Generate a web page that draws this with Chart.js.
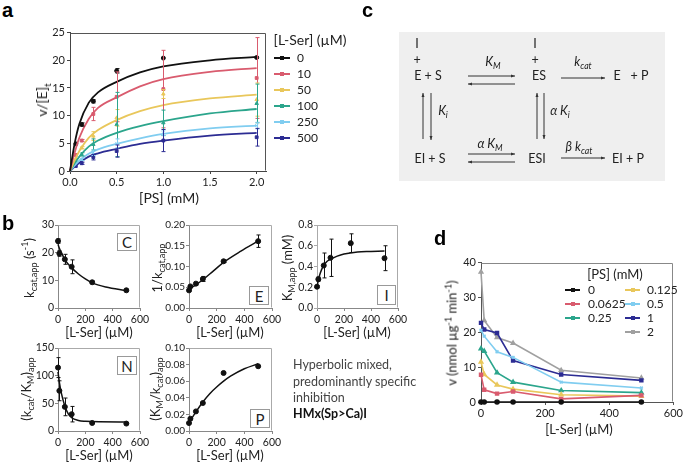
<!DOCTYPE html>
<html><head><meta charset="utf-8">
<script src="https://cdn.jsdelivr.net/npm/chart.js@4.4.1/dist/chart.umd.min.js"></script>
<style>
body{margin:0;width:685px;height:464px;background:#fff;position:relative;overflow:hidden;font-family:Lato,"Open Sans",sans-serif;color:#222}
.t{position:absolute;white-space:nowrap;line-height:1}
.pl{position:absolute;font:bold 20px Arial,"Liberation Sans",sans-serif;color:#000;line-height:1}
canvas{position:absolute}
sub,sup{font-size:70%;line-height:0}
.box{position:absolute;border:1px solid #999;background:#fff;font-size:15px;display:flex;align-items:center;justify-content:center;box-sizing:border-box}
.lgl{position:absolute;height:2px}
.lgm{position:absolute;width:4px;height:4px}
</style></head><body>
<script>
// ---------- DATA ----------
// panel a: [PS] (mM)
const psFit = [0, 0.05, 0.1, 0.2, 0.3, 0.5, 0.75, 1, 1.5, 2];
const fit0   = [0, 5.0, 8.5, 12.3, 14.2, 16.1, 17.8, 18.9, 20.0, 20.6];
const fit10  = [0, 3.3, 6.0, 9.4, 11.4, 13.3, 15.3, 16.6, 17.9, 18.6];
const fit50  = [0, 1.9, 3.6, 6.0, 7.4, 9.2, 10.8, 11.9, 13.1, 13.8];
const fit100 = [0, 1.4, 2.6, 4.4, 5.5, 6.9, 8.1, 9.0, 10.4, 11.2];
const fit250 = [0, 1.0, 1.9, 3.1, 3.9, 4.9, 5.9, 6.7, 7.7, 8.2];
const fit500 = [0, 0.8, 1.5, 2.6, 3.2, 4.0, 4.9, 5.5, 6.4, 6.9];
const psPts  = [0.0625, 0.125, 0.25, 0.5, 1, 2];
const pts0   = [4.9, 8.4, 12.6, 18.1, 20.4, 20.5];
const err0   = [0, 0.3, 0.3, 0.4, 0, 0];
const pts10  = [2.9, 5.5, 10.3, 13.4, 14.8, 16.8];
const err10  = [0, 0.2, 1.2, 4.5, 7.0, 7.3];
const pts50  = [2.2, 4.2, 6.3, 9.6, 13.9, 12.9];
const err50  = [0, 0.2, 0.8, 1.5, 0.8, 3.0];
const pts100 = [1.8, 3.0, 4.8, 8.4, 8.7, 12.2];
const err100 = [0, 0.3, 1.0, 5.8, 2.3, 3.5];
const pts250 = [1.3, 2.1, 3.3, 5.0, 6.9, 8.2];
const err250 = [0, 0.2, 0.5, 0.8, 0.5, 0.6];
const pts500 = [0.9, 1.4, 2.5, 3.6, 5.5, 6.1];
const err500 = [0, 0.2, 0.5, 1.1, 2.0, 1.6];
const serLabels = ['0', '10', '50', '100', '250', '500'];

// panel b: [L-Ser] (µM)
const ser = [0, 10, 50, 100, 250, 500];
const kcatPts = [24.2, 19.7, 17.6, 14.9, 9.3, 6.4];
const kcatErr = [0.8, 1.0, 1.8, 2.5, 0.5, 0.4];
const kcatFitX = [0, 10, 25, 50, 100, 150, 200, 250, 350, 500];
const kcatFit  = [23.0, 21.6, 20.0, 17.5, 14.5, 12.3, 10.5, 9.1, 7.6, 6.3];
const invPts = [0.0425, 0.052, 0.0587, 0.070, 0.1126, 0.161];
const invErr = [0.002, 0.002, 0.003, 0.006, 0.003, 0.015];
const invFitX = [0, 50, 100, 175, 250, 375, 500];
const invFit  = [0.046, 0.056, 0.068, 0.089, 0.110, 0.137, 0.161];
const kmPts = [0.205, 0.278, 0.41, 0.484, 0.625, 0.48];
const kmErr = [0.01, 0.02, 0.12, 0.18, 0.09, 0.12];
const kmFitX = [0, 10, 25, 50, 75, 100, 150, 200, 300, 400, 500];
const kmFit  = [0.20, 0.27, 0.34, 0.41, 0.45, 0.47, 0.50, 0.52, 0.54, 0.545, 0.55];
const effPts = [114.6, 72.7, 43.6, 30.4, 14.5, 13.4];
const effErr = [18, 18, 16, 14, 1, 1];
const effFitX = [0, 10, 25, 50, 75, 100, 150, 200, 300, 500];
const effFit  = [107, 88, 68, 45, 31, 24, 19, 17.5, 16.5, 16.3];
const recPts = [0.0096, 0.0148, 0.0236, 0.0337, 0.0699, 0.078];
const recFitX = [0, 50, 100, 150, 200, 250, 300, 400, 500];
const recFit  = [0.010, 0.023, 0.035, 0.045, 0.053, 0.060, 0.066, 0.075, 0.081];

// panel d: v vs [L-Ser] at each [PS] (mM)
const serD = [0, 10, 50, 100, 250, 500];
const vPS0      = [0, 0, 0, 0, 0, 0];
const vPS00625  = [7.8, 3.5, 2.4, 3.0, 0.9, 1.9];
const vPS0125   = [11.5, 7.9, 4.9, 3.7, 2.1, 1.7];
const vPS025    = [15.3, 14.6, 8.4, 5.7, 3.3, 2.7];
const vPS05     = [20.6, 18.9, 14.4, 12.8, 5.7, 4.0];
const vPS1      = [22.7, 20.8, 19.8, 11.9, 7.9, 6.2];
const vPS2      = [37.3, 23.4, 18.5, 16.9, 9.1, 6.9];
const psLabels = ['0', '0.0625', '0.125', '0.25', '0.5', '1', '2'];

// ---------- STYLE ----------
const FONT = "Lato, 'Open Sans', sans-serif";
Chart.defaults.font.family = FONT;
Chart.defaults.color = '#222';
const colA = ['#111111', '#d95b6e', '#e9c75b', '#2ba58c', '#80cdf0', '#2c2c93'];
const shpA = ['circle', 'rect', 'triangle', 'triangle', 'crossRot', 'rect'];
const colD = ['#111111', '#d95b6e', '#e9c75b', '#2ba58c', '#80cdf0', '#2c2c93', '#a0a0a0'];
const shpD = ['circle', 'rect', 'triangle', 'triangle', 'crossRot', 'rect', 'triangle'];

const framePlugin = {
  id: 'frame',
  beforeDatasetsDraw(chart, args, opts) {
    if (!opts.color) return;
    const {ctx, chartArea: a} = chart;
    ctx.save(); ctx.strokeStyle = opts.color; ctx.lineWidth = 1;
    const l = Math.round(a.left) + 0.5, t = Math.round(a.top) + 0.5, r = Math.round(a.right) - 0.5, b = Math.round(a.bottom) - 0.5;
    ctx.beginPath(); ctx.moveTo(l, t); ctx.lineTo(r, t); ctx.lineTo(r, b); ctx.stroke();
    ctx.restore();
  }
};
const errPlugin = {
  id: 'errbars',
  afterDatasetsDraw(chart) {
    const {ctx, scales: {x, y}} = chart;
    chart.data.datasets.forEach((ds) => {
      if (!ds.errs) return;
      ctx.save(); ctx.strokeStyle = ds.errColor || ds.borderColor; ctx.lineWidth = 1;
      ds.data.forEach((p, j) => {
        const e = ds.errs[j]; if (!e || p.y == null) return;
        const px = Math.round(x.getPixelForValue(p.x)) + 0.5;
        const y1 = y.getPixelForValue(p.y - e), y2 = y.getPixelForValue(p.y + e);
        ctx.beginPath(); ctx.moveTo(px, y1); ctx.lineTo(px, y2);
        ctx.moveTo(px - 2, y1); ctx.lineTo(px + 2, y1);
        ctx.moveTo(px - 2, y2); ctx.lineTo(px + 2, y2); ctx.stroke();
      });
      ctx.restore();
    });
  }
};

function axis(min, max, step, fmt, fs, col, pad) {
  return {
    type: 'linear', min, max,
    ticks: {stepSize: step, includeBounds: false, callback: v => fmt(v), font: {size: fs}, color: '#222', padding: pad == null ? 2 : pad, maxRotation: 0, autoSkip: false},
    grid: {display: true, drawOnChartArea: false, drawTicks: true, tickLength: 3, color: col},
    border: {display: true, color: col}
  };
}

function mk(area, datasets, xs, ys, frameColor) {
  const yw = area.yw, xh = area.xh, pr = area.pr || 14, pt = area.pt || 8;
  const cl = area.L - yw, ct = area.T - pt;
  const w = Math.round(area.R + pr - cl), h = Math.round(area.B + xh - ct);
  const c = document.createElement('canvas');
  c.width = w; c.height = h;
  c.style.left = cl + 'px'; c.style.top = ct + 'px'; c.style.width = w + 'px'; c.style.height = h + 'px';
  document.body.appendChild(c);
  xs.afterFit = s => { s.height = xh; };
  ys.afterFit = s => { s.width = yw; };
  new Chart(c, {
    type: 'scatter', data: {datasets},
    options: {
      responsive: false, animation: false, devicePixelRatio: 1,
      layout: {padding: {left: 0, top: pt, right: pr, bottom: 0}},
      plugins: {legend: {display: false}, tooltip: {enabled: false}, frame: {color: frameColor}},
      scales: {x: xs, y: ys}
    },
    plugins: [framePlugin, errPlugin]
  });
}

const xy = (xs, ys) => ys.map((v, i) => ({x: xs[i], y: v}));
function fitDs(xs, ys, color, w) {
  return {data: xy(xs, ys), showLine: true, borderColor: color, borderWidth: w || 1.5, pointRadius: 0, cubicInterpolationMode: 'monotone', fill: false, clip: false};
}
function ptDs(xs, ys, color, errs, shape, r) {
  return {data: xy(xs, ys), showLine: false, borderColor: color, backgroundColor: color, pointRadius: r || 2, pointStyle: shape || 'circle', errs, clip: false};
}

// ---------- HTML helpers ----------
function txt(html, x, y, size, opt) {
  opt = opt || {};
  const d = document.createElement('div'); d.className = 't'; d.innerHTML = html;
  d.style.left = x + 'px'; d.style.top = y + 'px'; d.style.fontSize = size + 'px';
  const ax = opt.align === 'left' ? '0' : '-50%';
  d.style.transform = `translate(${ax},-50%)`;
  if (opt.rot) { d.style.transformOrigin = '0 0'; d.style.transform = 'rotate(-90deg) translate(-50%,-50%)'; }
  if (opt.bold) d.style.fontWeight = 'bold';
  if (opt.color) d.style.color = opt.color;
  document.body.appendChild(d); return d;
}
function plabel(ch, x, y) { const d = document.createElement('div'); d.className = 'pl'; d.textContent = ch; d.style.left = x + 'px'; d.style.top = y + 'px'; document.body.appendChild(d); }
function lbox(ch, x1, y1, x2, y2) { const d = document.createElement('div'); d.className = 'box'; d.textContent = ch; d.style.left = x1 + 'px'; d.style.top = y1 + 'px'; d.style.width = (x2 - x1) + 'px'; d.style.height = (y2 - y1) + 'px'; document.body.appendChild(d); }
function legItem(x1, x2, y, color, label, lx, fs) {
  const l = document.createElement('div'); l.className = 'lgl'; l.style.left = x1 + 'px'; l.style.top = (y - 1) + 'px'; l.style.width = (x2 - x1) + 'px'; l.style.background = color; document.body.appendChild(l);
  const m = document.createElement('div'); m.className = 'lgm'; m.style.left = ((x1 + x2) / 2 - 2) + 'px'; m.style.top = (y - 2) + 'px'; m.style.background = color; document.body.appendChild(m);
  txt(label, lx, y, fs, {align: 'left'});
}

// ---------- PANEL a ----------
plabel('a', 2, 0);
{
  const fits = [fit0, fit10, fit50, fit100, fit250, fit500];
  const pts = [pts0, pts10, pts50, pts100, pts250, pts500];
  const errs = [err0, err10, err50, err100, err250, err500];
  const ds = [];
  fits.forEach((f, i) => ds.push(fitDs(psFit, f, colA[i], 1.8)));
  pts.forEach((p, i) => ds.push(ptDs(psPts, p, colA[i], errs[i], shpA[i], 2)));
  mk({L: 70, T: 31.7, R: 266, B: 170.7, yw: 40, xh: 22, pr: 14, pt: 8}, ds,
     axis(0, 2.1, 0.5, v => v.toFixed(1), 11, '#444'),
     axis(0, 25, 5, v => String(v), 11, '#444'), '#555');
  txt('v/[E]<sub>t</sub>', 42, 100, 14, {rot: true});
  txt('[PS] (mM)', 169, 198, 14);
  txt('[L-Ser] (µM)', 310, 40, 14);
  const ly = [58, 74, 90, 106, 122, 138];
  serLabels.forEach((s, i) => legItem(274, 290, ly[i], colA[i], s, 297, 12));
}

// ---------- PANEL b ----------
plabel('b', 2, 213);
const bx = () => axis(0, 600, 200, v => String(v), 10.5, '#888');
mk({L: 58, T: 225, R: 140, B: 308, yw: 28, xh: 16, pr: 12, pt: 8},
   [fitDs(kcatFitX, kcatFit, '#111', 1.5), ptDs(ser, kcatPts, '#111', kcatErr, 'circle', 2.5)],
   bx(), axis(0, 30, 10, v => String(v), 10.5, '#888', 1), '#aaa');
mk({L: 189, T: 225, R: 272, B: 308, yw: 34, xh: 16, pr: 12, pt: 8},
   [fitDs(invFitX, invFit, '#111', 1.5), ptDs(ser, invPts, '#111', invErr, 'circle', 2.5)],
   bx(), axis(0, 0.2, 0.05, v => v.toFixed(2), 10, '#888', 1), '#aaa');
mk({L: 317, T: 225, R: 398, B: 308, yw: 28, xh: 16, pr: 12, pt: 8},
   [fitDs(kmFitX, kmFit, '#111', 1.5), ptDs(ser, kmPts, '#111', kmErr, 'circle', 2.5)],
   bx(), axis(0, 0.8, 0.2, v => v.toFixed(1), 10.5, '#aaa', 1), '#aaa');
mk({L: 58, T: 348, R: 140, B: 431, yw: 30, xh: 16, pr: 12, pt: 8},
   [fitDs(effFitX, effFit, '#111', 1.5), ptDs(ser, effPts, '#111', effErr, 'circle', 2.5)],
   bx(), axis(0, 150, 50, v => String(v), 10.5, '#888', 1), '#aaa');
mk({L: 189, T: 348, R: 272, B: 431, yw: 34, xh: 16, pr: 12, pt: 8},
   [fitDs(recFitX, recFit, '#111', 1.5), ptDs(ser, recPts, '#111', null, 'circle', 2.5)],
   bx(), axis(0, 0.1, 0.02, v => v.toFixed(2), 10, '#888', 1), '#aaa');
lbox('C', 117, 233, 137, 251);
lbox('E', 249, 286, 269, 305);
lbox('I', 377, 285, 396, 305);
lbox('N', 117, 356, 137, 375);
lbox('P', 250, 409, 270, 428);
txt('k<sub>cat,app</sub> (s<sup>-1</sup>)', 29, 268, 13, {rot: true});
txt('1/k<sub>cat,app</sub>', 157, 268, 13, {rot: true});
txt('K<sub>M,app</sub> (mM)', 287, 268, 13, {rot: true});
txt('(k<sub>cat</sub>/K<sub>M</sub>)<sub>app</sub>', 26, 389, 13, {rot: true});
txt('(K<sub>M</sub>/k<sub>cat</sub>)<sub>app</sub>', 155, 389, 13, {rot: true});
txt('[L-Ser] (µM)', 99, 332, 13);
txt('[L-Ser] (µM)', 230, 332, 13);
txt('[L-Ser] (µM)', 357, 332, 13);
txt('[L-Ser] (µM)', 99, 455, 13);
txt('[L-Ser] (µM)', 230, 455, 13);
txt('Hyperbolic mixed,', 293, 365, 12.5, {align: 'left', color: '#444'});
txt('predominantly specific', 293, 382, 12.5, {align: 'left', color: '#444'});
txt('inhibition', 293, 398, 12.5, {align: 'left', color: '#444'});
txt('HMx(Sp&gt;Ca)I', 293, 414, 12.5, {align: 'left', bold: true, color: '#111'});

// ---------- PANEL c ----------
plabel('c', 362, 0);
{
  const bg = document.createElement('div');
  Object.assign(bg.style, {position: 'absolute', left: '399px', top: '32px', width: '266px', height: '149px', background: '#efefef'});
  document.body.appendChild(bg);
  const ns = 'http://www.w3.org/2000/svg';
  const svg = document.createElementNS(ns, 'svg');
  svg.setAttribute('width', 685); svg.setAttribute('height', 464);
  Object.assign(svg.style, {position: 'absolute', left: 0, top: 0});
  document.body.appendChild(svg);
  function arrow(x1, y1, x2, y2) {
    const l = document.createElementNS(ns, 'line');
    l.setAttribute('x1', x1); l.setAttribute('y1', y1); l.setAttribute('x2', x2); l.setAttribute('y2', y2);
    l.setAttribute('stroke', '#333'); l.setAttribute('stroke-width', 1);
    svg.appendChild(l);
    const ang = Math.atan2(y2 - y1, x2 - x1), s = 4;
    const p = document.createElementNS(ns, 'polygon');
    const ax = x2 - s * Math.cos(ang), ay = y2 - s * Math.sin(ang);
    const nx = -Math.sin(ang) * 1.5, ny = Math.cos(ang) * 1.5;
    p.setAttribute('points', `${x2},${y2} ${ax + nx},${ay + ny} ${ax - nx},${ay - ny}`);
    p.setAttribute('fill', '#333'); svg.appendChild(p);
  }
  arrow(468, 76, 515, 76); arrow(515, 84, 468, 84);
  arrow(561, 78, 605, 78);
  arrow(423, 139, 423, 93); arrow(431, 93, 431, 140);
  arrow(537, 139, 537, 93); arrow(544, 93, 544, 139);
  arrow(468, 154, 515, 154); arrow(515, 162, 468, 162);
  arrow(561, 158, 605, 158);
  const fs = 12.5;
  txt('I', 417, 44, fs); txt('+', 417, 60, fs); txt('E + S', 428, 76, fs);
  txt('<i>K<sub>M</sub></i>', 493, 62, fs);
  txt('I', 535, 44, fs); txt('+', 535, 60, fs); txt('ES', 539, 76, fs);
  txt('<i>k<sub>cat</sub></i>', 583, 62, fs);
  txt('E &nbsp; + P', 631, 76, fs);
  txt('<i>K<sub>i</sub></i>', 443, 111, fs);
  txt('<i>α K<sub>i</sub></i>', 560, 111, fs);
  txt('EI + S', 430, 159, fs);
  txt('<i>α K<sub>M</sub></i>', 490, 144, fs);
  txt('ESI', 537, 159, fs);
  txt('<i>β k<sub>cat</sub></i>', 579, 147, fs);
  txt('EI + P', 628, 159, fs);
}

// ---------- PANEL d ----------
plabel('d', 434, 228);
{
  const vs = [vPS0, vPS00625, vPS0125, vPS025, vPS05, vPS1, vPS2];
  const ds = vs.map((v, i) => ({data: xy(serD, v), showLine: true, borderColor: colD[i], backgroundColor: colD[i], borderWidth: 1.6, pointRadius: 2, pointStyle: shpD[i], tension: 0, clip: false}));
  mk({L: 481, T: 262, R: 676, B: 402, yw: 30, xh: 18, pr: 9, pt: 8}, ds,
     axis(0, 600, 200, v => String(v), 11, '#555'),
     axis(0, 40, 10, v => String(v), 11, '#555'), '#888');
  txt('v (nmol µg<sup>-1</sup> min<sup>-1</sup>)', 452, 333, 13, {rot: true});
  txt('[L-Ser] (µM)', 579, 429, 13);
  txt('[PS] (mM)', 615, 274, 13);
  const c1 = [[0, 290], [1, 304], [3, 318]];
  c1.forEach(([i, y]) => legItem(565, 580, y, colD[i], psLabels[i], 588, 12));
  const c2 = [[2, 290], [4, 304], [5, 318], [6, 332]];
  c2.forEach(([i, y]) => legItem(625, 640, y, colD[i], psLabels[i], 647, 12));
}
</script>
</body></html>
